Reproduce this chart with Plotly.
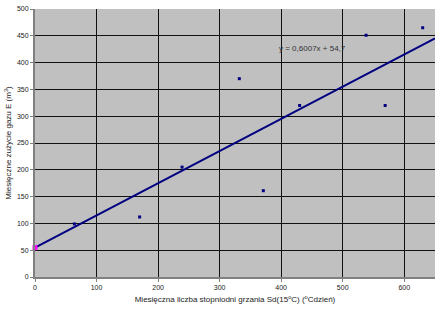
import plotly.graph_objects as go

# Data
sd_values = [64, 170, 239, 332, 371, 430, 538, 569, 630]
gas_values = [99, 112, 205, 370, 161, 320, 451, 320, 465]
slope = 0.6007
intercept = 54.7
x_range = [0, 650]
equation_label = "y = 0,6007x + 54,7"

trend_x = x_range
trend_y = [slope * v + intercept for v in trend_x]

fig = go.Figure()
fig.add_trace(go.Scatter(
    x=trend_x, y=trend_y, mode="lines",
    line=dict(color="#000080", width=2), hoverinfo="skip", showlegend=False))
fig.add_trace(go.Scatter(
    x=sd_values, y=gas_values, mode="markers",
    marker=dict(symbol="square", size=3, color="#000080"), showlegend=False))
fig.add_trace(go.Scatter(
    x=[0], y=[intercept], mode="markers",
    marker=dict(symbol="square", size=5, color="#FF00FF"), showlegend=False,
    cliponaxis=False))

fig.add_annotation(
    x=394, y=426, xref="x", yref="y", text=equation_label, showarrow=False,
    xanchor="left", yanchor="middle",
    font=dict(family="Liberation Sans, Arial", size=8, color="#333333"))

fig.update_layout(
    width=440, height=310,
    margin=dict(l=35, r=5, t=7, b=33),
    paper_bgcolor="white", plot_bgcolor="#C0C0C0",
    font=dict(family="Liberation Sans, Arial", size=7, color="#222222"),
    xaxis=dict(
        range=x_range, dtick=100, tick0=0,
        showgrid=True, gridcolor="#111111", gridwidth=1,
        zeroline=False, showline=True, linecolor="#808080", linewidth=2,
        ticks="outside", ticklen=3, tickcolor="#808080",
        tickfont=dict(size=7),
        title=dict(text="Miesięczna liczba stopniodni grzania Sd(15<sup>o</sup>C) (<sup>o</sup>Cdzień)",
                   font=dict(size=8), standoff=6)),
    yaxis=dict(
        range=[0, 500], dtick=50, tick0=0,
        showgrid=True, gridcolor="#111111", gridwidth=1,
        zeroline=False, showline=True, linecolor="#808080", linewidth=2,
        ticks="outside", ticklen=3, tickcolor="#808080",
        tickfont=dict(size=7),
        title=dict(text="Miesięczne zużycie gazu E (m<sup>3</sup>)",
                   font=dict(size=8), standoff=4)),
)

fig.write_html("out.html")
